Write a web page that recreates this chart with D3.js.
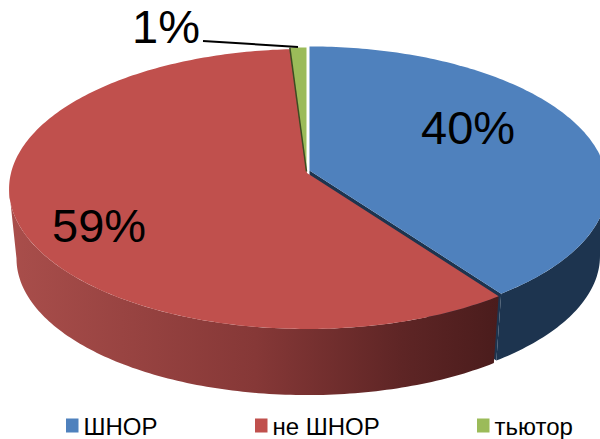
<!DOCTYPE html>
<html>
<head>
<meta charset="utf-8">
<script src="https://cdn.jsdelivr.net/npm/d3@7"></script>
<style>
body { margin: 0; background: #fff; }
text { font-family: "Liberation Sans", Arial, sans-serif; fill: #000; }
</style>
</head>
<body>
<svg id="chart" width="600" height="439"></svg>
<script>
var categories = ["ШНОР", "не ШНОР", "тьютор"];
var values = [40, 59, 1];
var labels = ["40%", "59%", "1%"];

var topColors = ["#4f81bd", "#c0504d", "#9bbb59"];
var wallColors = ["#1d344f", "url(#redWall)", "#3d4c22"];
// how far each slice is pulled out of the pie
var offsets = [[1.5, -1.5], [-1, 1], [-1.5, -0.5]];

var svg = d3.select("#chart");

// side of the red slice gets darker to the right
var grad = svg.append("defs").append("linearGradient")
        .attr("id", "redWall")
        .attr("gradientUnits", "userSpaceOnUse")
        .attr("x1", 10).attr("x2", 500).attr("y1", 0).attr("y2", 0);
grad.append("stop").attr("offset", 0).attr("stop-color", "#a94e4b");
grad.append("stop").attr("offset", 0.5).attr("stop-color", "#863837");
grad.append("stop").attr("offset", 0.8).attr("stop-color", "#5e2525");
grad.append("stop").attr("offset", 1).attr("stop-color", "#4a1c1c");

// the pie is a tilted disc seen in perspective
var cx = 308, cy = 172, R = 296, kR = 138.2, p = 0.114;
var depth = 70, baseScale = 0.975;

function project(angle, level, off) {
        var u = Math.sin(angle), v = -Math.cos(angle);
        var s = 1 / (1 - p * v);
        var shrink = level ? baseScale : 1;
        return [
                cx + off[0] + R * shrink * u * s,
                cy + off[1] + (level ? depth : 0) + kR * shrink * v * s
        ];
}

function rim(a0, a1, level, off) {
        var n = Math.max(4, Math.ceil((a1 - a0) * 60));
        return d3.range(n + 1).map(function (i) {
                return project(a0 + (a1 - a0) * i / n, level, off);
        });
}

var line = d3.line();
var pie = d3.pie().sort(null)(values);

function centre(level, off) {
        return [cx + off[0], cy + off[1] + (level ? depth : 0)];
}

// cut face of a slice at one angle
function cutFace(angle, off) {
        return line([centre(0, off), project(angle, 0, off), project(angle, 1, off), centre(1, off)]) + "Z";
}

// outer wall, from the widest point of the disc round the front
var widest = Math.asin(p);
function outerWall(d, off) {
        var a0 = Math.max(d.startAngle, Math.PI / 2 + widest);
        var a1 = Math.min(d.endAngle, 3 * Math.PI / 2 - widest);
        return line(rim(a0, a1, 0, off).concat(rim(a0, a1, 1, off).reverse())) + "Z";
}

function topFace(d, off) {
        return line([centre(0, off)].concat(rim(d.startAngle, d.endAngle, 0, off))) + "Z";
}

// back to front: blue cut face, then the walls, then the tops
svg.append("path").attr("d", cutFace(pie[0].endAngle, offsets[0])).attr("fill", wallColors[0]);
svg.append("path").attr("d", outerWall(pie[0], offsets[0])).attr("fill", wallColors[0]);
svg.append("path").attr("d", outerWall(pie[1], offsets[1])).attr("fill", wallColors[1]);
svg.append("path").attr("d", topFace(pie[1], offsets[1])).attr("fill", topColors[1]);
svg.append("path").attr("d", topFace(pie[2], offsets[2])).attr("fill", topColors[2]);
svg.append("path").attr("d", topFace(pie[0], offsets[0])).attr("fill", topColors[0]);

// dark sliver on the left side of the green slice
svg.append("path")
        .attr("d", line([centre(0, offsets[2]), project(pie[2].startAngle, 0, offsets[2])]))
        .attr("stroke", wallColors[2])
        .attr("stroke-width", 1.5);

// leader line for the small slice
svg.append("line")
        .attr("x1", 203).attr("y1", 41)
        .attr("x2", 298).attr("y2", 47)
        .attr("stroke", "#000").attr("stroke-width", 2);

var labelX = [421, 52, 132];
var labelY = [144, 242, 43];
svg.selectAll(".lbl").data(labels).enter().append("text")
        .attr("class", "lbl")
        .attr("x", function (d, i) { return labelX[i]; })
        .attr("y", function (d, i) { return labelY[i]; })
        .style("font-size", "47px")
        .text(function (d) { return d; });

// legend
var legendX = [66, 255, 477];
var legend = svg.selectAll(".leg").data(categories).enter().append("g")
        .attr("class", "leg")
        .attr("transform", function (d, i) { return "translate(" + legendX[i] + ",418.5)"; });
legend.append("rect")
        .attr("width", 12.5).attr("height", 14)
        .attr("fill", function (d, i) { return topColors[i]; });
legend.append("text")
        .attr("x", 17.5).attr("y", 16)
        .style("font-size", "24px")
        .text(function (d) { return d; });
</script>
</body>
</html>
